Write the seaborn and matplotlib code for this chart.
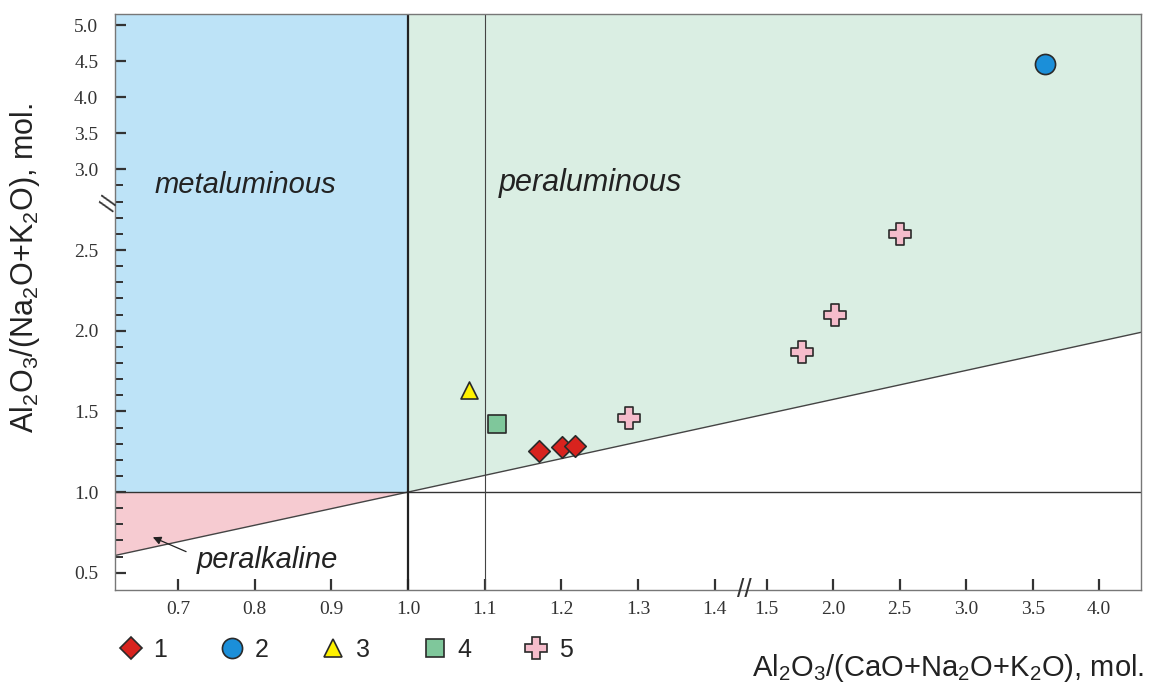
import numpy as np
import pandas as pd
import matplotlib
matplotlib.use('Agg')
import matplotlib.pyplot as plt
from matplotlib.lines import Line2D
import seaborn as sns

# ------------------------------- DATOS ---------------------------------------
grupos = ['1', '2', '3', '4', '5']
acnk = [1.171, 1.201, 1.218, 3.596, 1.079, 1.116, 1.288, 1.770, 2.016, 2.503]
ank = [1.253, 1.278, 1.284, 4.465, 1.632, 1.420, 1.458, 1.868, 2.100, 2.600]
grupo = ['1', '1', '1', '2', '3', '4', '5', '5', '5', '5']

colores = {'1': '#d8231e', '2': '#1b8fd9', '3': '#fff200', '4': '#7fc79b', '5': '#f5bccb'}
marcadores = {'1': 'D', '2': 'o', '3': '^', '4': 's', '5': 'P'}
tamanos = {'1': 120, '2': 210, '3': 150, '4': 150, '5': 230}

# limites de campos
linea_x = [0.618, 1.0, 4.314]
linea_y = [0.607, 1.0, 1.99]
x_ticks = [0.7, 0.8, 0.9, 1.0, 1.1, 1.2, 1.3, 1.4, 1.5, 2.0, 2.5, 3.0, 3.5, 4.0]
y_ticks = [0.5, 1.0, 1.5, 2.0, 2.5, 3.0, 3.5, 4.0, 4.5, 5.0]
y_minor = [round(v, 1) for v in np.arange(0.6, 3.0, 0.1) if round(v * 10) % 5 != 0]

df = pd.DataFrame({'acnk': acnk, 'ank': ank, 'grupo': grupo})

# ------------------------- ESCALAS CON CORTE ---------------------------------
bx_val = [0.5, 1.43, 1.5, 5.0]
bx_pix = [385.0, 1101.1, 1130.1, 1130.1 + 3.5 * 133.6]
by_val = [0.0, 3.0, 6.0]
by_pix = [0.0, 483.0, 699.0]


def fx(v):
    return np.interp(v, bx_val, bx_pix)


def fx_inv(p):
    return np.interp(p, bx_pix, bx_val)


def fy(v):
    return np.interp(v, by_val, by_pix)


def fy_inv(p):
    return np.interp(p, by_pix, by_val)


# ------------------------------ GRAFICAR -------------------------------------
sns.set_style('white')
plt.rcParams['font.family'] = ['Liberation Sans', 'DejaVu Sans']
plt.rcParams['mathtext.fontset'] = 'custom'
plt.rcParams['mathtext.rm'] = 'Liberation Sans'
plt.rcParams['xtick.direction'] = 'in'
plt.rcParams['ytick.direction'] = 'in'
plt.rcParams['xtick.bottom'] = True
plt.rcParams['ytick.left'] = True

fig = plt.figure(figsize=(11.49, 6.93), dpi=100)
ax = fig.add_axes([0.1001, 0.1486, 0.8929, 0.8312])
ax.set_xscale('function', functions=(fx, fx_inv))
ax.set_yscale('function', functions=(fy, fy_inv))
xmin, xmax = 0.618, 4.314
ymin, ymax = 0.393, 5.153
ax.set_xlim(xmin, xmax)
ax.set_ylim(ymin, ymax)

# campos
ax.fill([xmin, 1.0, 1.0, xmin], [1.0, 1.0, ymax, ymax], color='#bde3f7', lw=0, zorder=0)
ax.fill([1.0, xmax, xmax, 1.0], [1.0, linea_y[2], ymax, ymax], color='#daeee3', lw=0, zorder=0)
ax.fill([xmin, 1.0, xmin], [linea_y[0], 1.0, 1.0], color='#f6cbd1', lw=0, zorder=0)

ax.plot(linea_x, linea_y, color='#444444', lw=1.0, zorder=1)
ax.axhline(1.0, color='#333333', lw=1.0, zorder=1)
ax.axvline(1.0, color='#222222', lw=1.6, zorder=1)
ax.axvline(1.1, color='#444444', lw=0.8, zorder=1)

for g in grupos:
    sub = df[df['grupo'] == g]
    sns.scatterplot(data=sub, x='acnk', y='ank', marker=marcadores[g], color=colores[g],
                    s=tamanos[g], edgecolor='#2a2a2a', linewidth=1.2, ax=ax, zorder=3, legend=False)

ax.set_xlabel('')
ax.set_ylabel('')

# textos de campos
ax.text(0.670, 2.904, 'metaluminous', fontsize=21, style='italic', va='center', ha='left', color='#222222')
ax.text(1.119, 2.916, 'peraluminous', fontsize=22, style='italic', va='center', ha='left', color='#222222')
ax.text(0.725, 0.576, 'peralkaline', fontsize=21, style='italic', va='center', ha='left', color='#222222')
ax.annotate('', xy=(0.664, 0.727), xytext=(0.714, 0.624),
            arrowprops=dict(arrowstyle='-|>', color='#222222', lw=0.9, mutation_scale=12))

# ejes
ax.set_xticks(x_ticks)
ax.set_xticklabels([f'{v:.1f}' for v in x_ticks])
ax.set_yticks(y_ticks)
ax.set_yticklabels([f'{v:.1f}' for v in y_ticks])
ax.set_yticks(y_minor, minor=True)
ax.tick_params(axis='both', which='major', direction='in', length=8, width=1.6, color='#333333',
               labelsize=14, labelcolor='#333333', labelfontfamily='Liberation Serif',
               bottom=True, left=True)
ax.tick_params(axis='y', which='minor', direction='in', length=6, width=1.4, color='#333333', left=True)
ax.tick_params(axis='y', which='major', pad=12)
ax.tick_params(axis='x', which='major', pad=8)
ax.tick_params(axis='x', which='minor', bottom=False)
for sp in ax.spines.values():
    sp.set_color('#777777')
    sp.set_linewidth(1.0)

# marcas de corte
ax.text(1.447, 0.0, '//', transform=ax.get_xaxis_transform(), ha='center', va='center',
        fontsize=19, color='#333333', clip_on=False, zorder=5)
ax.text(-0.004, 2.79, '//', transform=ax.get_yaxis_transform(), ha='center', va='center',
        fontsize=17, color='#333333', rotation=70, clip_on=False, zorder=5)

fig.text(0.022, 1 - 268 / 693, r'Al$_\mathregular{2}$O$_\mathregular{3}$/(Na$_\mathregular{2}$O+K$_\mathregular{2}$O), mol.',
         rotation=90, ha='center', va='center', fontsize=22, color='#222222')
fig.text(0.996, 0.036, r'Al$_\mathregular{2}$O$_\mathregular{3}$/(CaO+Na$_\mathregular{2}$O+K$_\mathregular{2}$O), mol.',
         ha='right', va='center', fontsize=21, color='#222222')

handles = [Line2D([], [], linestyle='none', marker=marcadores[g], markerfacecolor=colores[g],
                  markeredgecolor='#2a2a2a', markeredgewidth=1.2,
                  markersize=np.sqrt(tamanos[g])) for g in grupos]
fig.legend(handles, grupos, loc='center left', bbox_to_anchor=(0.081, 0.062), ncol=5, frameon=False,
           fontsize=18, handletextpad=0.3, columnspacing=2.0, handlelength=1.2)

plt.savefig('out.png', dpi=100)
